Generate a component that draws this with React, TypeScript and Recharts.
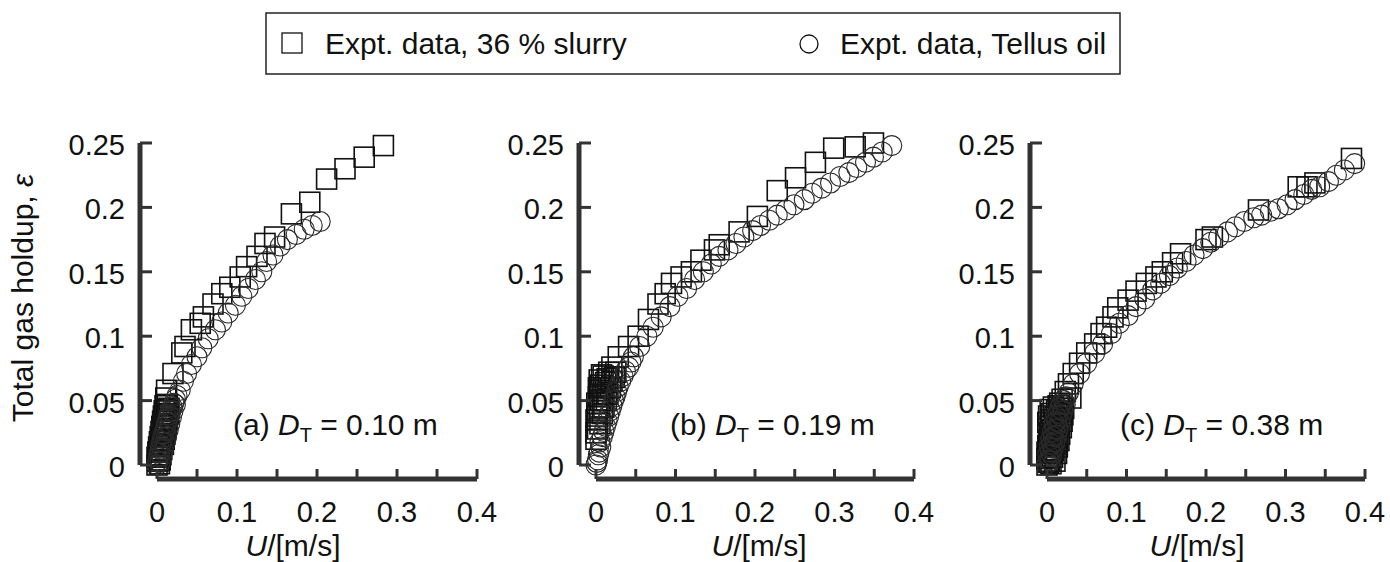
import React from "react";
import { ScatterChart, Scatter, XAxis, YAxis, ReferenceLine } from "recharts";

const W = 1390;
const H = 562;
const FONT = "'Liberation Sans', Arial, Helvetica, sans-serif";
const INK = "#111";
const AXIS = "#333";

// axis ticks (minor x ticks at 0.05 carry no label)
const xTicks = [0, 0.05, 0.1, 0.15, 0.2, 0.25, 0.3, 0.35, 0.4];
const xTickLabels = ["0", "", "0.1", "", "0.2", "", "0.3", "", "0.4"];
const yTicks = [0, 0.05, 0.1, 0.15, 0.2, 0.25];
const yTickLabels = ["0", "0.05", "0.1", "0.15", "0.2", "0.25"];

// [U m/s, gas holdup]
const slurryA = [
  [0.000, 0.000], [0.003, 0.001], [0.001, 0.003], [0.004, 0.004], [0.000, 0.006],
  [0.002, 0.007], [0.005, 0.008], [0.001, 0.010], [0.004, 0.011], [0.006, 0.012],
  [0.002, 0.014], [0.005, 0.015], [0.008, 0.016], [0.003, 0.018], [0.006, 0.019],
  [0.009, 0.020], [0.004, 0.022], [0.007, 0.023], [0.010, 0.024], [0.005, 0.026],
  [0.008, 0.027], [0.011, 0.028], [0.006, 0.030], [0.009, 0.031], [0.012, 0.032],
  [0.007, 0.034], [0.010, 0.035], [0.013, 0.036], [0.008, 0.038], [0.011, 0.039],
  [0.014, 0.040], [0.009, 0.042], [0.012, 0.043], [0.015, 0.044], [0.010, 0.046],
  [0.013, 0.047], [0.011, 0.052], [0.012, 0.058],
  [0.020, 0.071], [0.031, 0.087], [0.035, 0.092], [0.043, 0.105], [0.054, 0.110],
  [0.058, 0.115], [0.070, 0.125], [0.081, 0.133], [0.091, 0.138], [0.104, 0.146],
  [0.112, 0.154], [0.125, 0.162], [0.135, 0.172], [0.147, 0.177], [0.168, 0.195],
  [0.191, 0.204], [0.212, 0.222], [0.235, 0.230], [0.259, 0.239], [0.283, 0.248],
];
const oilA = [
  [0.000, 0.000], [0.001, 0.003], [0.002, 0.006], [0.003, 0.009], [0.004, 0.012],
  [0.005, 0.015], [0.006, 0.018], [0.007, 0.021], [0.008, 0.024], [0.010, 0.027],
  [0.011, 0.030], [0.012, 0.033], [0.014, 0.036], [0.015, 0.039], [0.017, 0.042],
  [0.019, 0.045], [0.021, 0.048], [0.023, 0.051], [0.025, 0.054],
  [0.004, 0.002], [0.006, 0.007], [0.008, 0.012], [0.010, 0.017], [0.012, 0.022],
  [0.014, 0.027], [0.016, 0.032], [0.018, 0.037], [0.020, 0.042], [0.023, 0.047],
  [0.029, 0.058], [0.033, 0.065], [0.037, 0.071], [0.043, 0.078], [0.050, 0.084],
  [0.056, 0.091], [0.064, 0.098], [0.073, 0.105], [0.081, 0.111], [0.089, 0.118],
  [0.098, 0.124], [0.106, 0.131], [0.114, 0.137], [0.123, 0.144], [0.131, 0.150],
  [0.137, 0.158], [0.145, 0.163], [0.154, 0.170], [0.163, 0.175], [0.174, 0.179],
  [0.184, 0.183], [0.194, 0.186], [0.204, 0.189],
];
const slurryB = [
  [0.000, 0.020], [0.000, 0.025], [0.002, 0.028], [0.000, 0.035], [0.002, 0.038],
  [0.001, 0.042], [0.004, 0.045], [0.001, 0.048], [0.006, 0.050], [0.003, 0.053],
  [0.008, 0.055], [0.004, 0.058], [0.010, 0.060], [0.006, 0.062], [0.012, 0.064],
  [0.004, 0.066], [0.014, 0.067], [0.009, 0.069], [0.016, 0.072], [0.020, 0.076],
  [0.005, 0.032], [0.008, 0.040], [0.010, 0.045], [0.013, 0.050], [0.015, 0.055],
  [0.018, 0.060], [0.020, 0.065], [0.023, 0.068], [0.025, 0.072], [0.003, 0.060],
  [0.007, 0.070],
  [0.028, 0.084], [0.041, 0.092], [0.053, 0.100], [0.066, 0.113], [0.078, 0.125],
  [0.087, 0.133], [0.095, 0.141], [0.107, 0.146], [0.120, 0.150], [0.132, 0.159],
  [0.149, 0.167], [0.155, 0.171], [0.180, 0.181], [0.203, 0.193], [0.228, 0.213],
  [0.251, 0.223], [0.276, 0.235], [0.299, 0.246], [0.326, 0.247], [0.349, 0.250],
];
const oilB = [
  [0.000, 0.000], [0.002, 0.004], [0.004, 0.010], [0.005, 0.018], [0.010, 0.026],
  [0.014, 0.034], [0.018, 0.042], [0.022, 0.050], [0.026, 0.057], [0.031, 0.065],
  [0.037, 0.073], [0.044, 0.080],
  [0.001, 0.002], [0.003, 0.008], [0.006, 0.014], [0.008, 0.022], [0.012, 0.030],
  [0.016, 0.038], [0.020, 0.046], [0.024, 0.053], [0.028, 0.061], [0.034, 0.069],
  [0.041, 0.076], [0.047, 0.084], [0.055, 0.092], [0.064, 0.100], [0.072, 0.107],
  [0.082, 0.115], [0.093, 0.123], [0.103, 0.131], [0.114, 0.137], [0.124, 0.144],
  [0.135, 0.150], [0.145, 0.156], [0.155, 0.162], [0.166, 0.167], [0.176, 0.172],
  [0.186, 0.177], [0.197, 0.182], [0.207, 0.186], [0.218, 0.190], [0.228, 0.194],
  [0.239, 0.198], [0.249, 0.202], [0.262, 0.206], [0.272, 0.211], [0.284, 0.215],
  [0.295, 0.219], [0.307, 0.224], [0.318, 0.227], [0.328, 0.231], [0.339, 0.235],
  [0.349, 0.239], [0.360, 0.243], [0.372, 0.248],
];
const slurryC = [
  [0.000, 0.000], [0.002, 0.002], [0.005, 0.001], [0.000, 0.005], [0.003, 0.007],
  [0.007, 0.006], [0.000, 0.010], [0.004, 0.012], [0.008, 0.011], [0.001, 0.015],
  [0.005, 0.017], [0.010, 0.016], [0.002, 0.020], [0.006, 0.022], [0.011, 0.021],
  [0.003, 0.025], [0.007, 0.027], [0.013, 0.026], [0.004, 0.030], [0.009, 0.032],
  [0.014, 0.031], [0.005, 0.035], [0.010, 0.037], [0.016, 0.036], [0.006, 0.040],
  [0.012, 0.042], [0.017, 0.041], [0.008, 0.045], [0.014, 0.046], [0.019, 0.044],
  [0.010, 0.003], [0.012, 0.009], [0.013, 0.014], [0.015, 0.019], [0.016, 0.024],
  [0.018, 0.029], [0.019, 0.034], [0.020, 0.039], [0.021, 0.044], [0.001, 0.033],
  [0.002, 0.038], [0.004, 0.043], [0.003, 0.003], [0.006, 0.009], [0.008, 0.019],
  [0.009, 0.024], [0.011, 0.030], [0.013, 0.035], [0.015, 0.040], [0.016, 0.048],
  [0.019, 0.051], [0.030, 0.052], [0.023, 0.057], [0.027, 0.063], [0.033, 0.071],
  [0.041, 0.079], [0.050, 0.087], [0.060, 0.094], [0.068, 0.102], [0.075, 0.107],
  [0.083, 0.115], [0.089, 0.122], [0.102, 0.128], [0.112, 0.135], [0.125, 0.141],
  [0.137, 0.146], [0.145, 0.150], [0.158, 0.157], [0.168, 0.164], [0.200, 0.175],
  [0.208, 0.177], [0.266, 0.198], [0.316, 0.216], [0.327, 0.216], [0.337, 0.219],
  [0.383, 0.238],
];
const oilC = [
  [0.000, 0.001], [0.002, 0.004], [0.001, 0.008], [0.004, 0.010], [0.003, 0.014],
  [0.006, 0.016], [0.005, 0.020], [0.008, 0.022], [0.007, 0.026], [0.010, 0.028],
  [0.009, 0.032], [0.012, 0.034], [0.011, 0.038], [0.014, 0.040], [0.016, 0.044],
  [0.018, 0.047], [0.021, 0.050], [0.024, 0.053],
  [0.004, 0.003], [0.006, 0.008], [0.008, 0.013], [0.010, 0.018], [0.012, 0.023],
  [0.014, 0.028], [0.016, 0.033], [0.018, 0.038], [0.020, 0.042], [0.023, 0.047],
  [0.027, 0.056], [0.033, 0.063],
  [0.041, 0.071], [0.050, 0.079], [0.060, 0.087], [0.070, 0.094], [0.081, 0.102],
  [0.091, 0.110], [0.102, 0.116], [0.112, 0.123], [0.123, 0.129], [0.133, 0.136],
  [0.143, 0.141], [0.154, 0.147], [0.164, 0.153], [0.175, 0.158], [0.185, 0.163],
  [0.196, 0.168], [0.206, 0.173], [0.216, 0.177], [0.227, 0.181], [0.237, 0.185],
  [0.248, 0.189], [0.260, 0.192], [0.270, 0.194], [0.281, 0.197], [0.291, 0.199],
  [0.302, 0.202], [0.312, 0.206], [0.323, 0.210], [0.333, 0.214], [0.343, 0.216],
  [0.354, 0.220], [0.364, 0.225], [0.374, 0.229], [0.387, 0.234],
];

const panels = [
  { tag: "(a)", dt: "0.10", slurry: slurryA, oil: oilA, left: 140, right: 477, noteX: 233, titleX: 293 },
  { tag: "(b)", dt: "0.19", slurry: slurryB, oil: oilB, left: 579, right: 914, noteX: 670, titleX: 759 },
  { tag: "(c)", dt: "0.38", slurry: slurryC, oil: oilC, left: 1030, right: 1365, noteX: 1120, titleX: 1197 },
];

const TOP = 143;
const XAXIS_Y = 479;
const PAD_X = 17;
const PAD_Y = 14;
const Y_W = 60;
const X_H = 40;

const toPts = (arr: number[][]) => arr.map(([u, eps]) => ({ u, eps }));

const Square = (p: any) => (
  <rect x={p.cx - 10} y={p.cy - 10} width={20} height={20} fill="none" stroke={INK} strokeWidth={1.6} />
);
const Ring = (p: any) => (
  <circle cx={p.cx} cy={p.cy} r={10} fill="none" stroke="#2a2a2a" strokeWidth={1.1} />
);

const XTick = (p: any) => {
  const i = xTicks.indexOf(p.payload.value);
  const label = xTickLabels[i] ?? "";
  return (
    <g>
      <line x1={p.x} y1={p.y} x2={p.x} y2={p.y - 10} stroke={AXIS} strokeWidth={3} />
      {label && (
        <text x={p.x} y={p.y + 43} textAnchor="middle" fontFamily={FONT} fontSize={29} fill={INK}>
          {label}
        </text>
      )}
    </g>
  );
};

const YTick = (p: any) => {
  const i = yTicks.indexOf(p.payload.value);
  return (
    <g>
      <line x1={p.x} y1={p.y} x2={p.x + 12} y2={p.y} stroke={AXIS} strokeWidth={3} />
      <text x={p.x - 15} y={p.y + 12} textAnchor="end" fontFamily={FONT} fontSize={29} fill={INK}>
        {yTickLabels[i]}
      </text>
    </g>
  );
};

// offset (detached) axis lines, as in the original figure
const XLine = (p: any) => {
  const x1 = Math.min(p.x1, p.x2) + PAD_X;
  const x2 = Math.max(p.x1, p.x2);
  return <line x1={x1} y1={p.y1 + PAD_Y} x2={x2} y2={p.y2 + PAD_Y} stroke={AXIS} strokeWidth={5} />;
};
const YLine = (p: any) => {
  const y1 = Math.min(p.y1, p.y2);
  const y2 = Math.max(p.y1, p.y2) - PAD_Y;
  return <line x1={p.x1 - PAD_X} y1={y1} x2={p.x2 - PAD_X} y2={y2} stroke={AXIS} strokeWidth={5} />;
};

function Panel({ cfg }: { cfg: (typeof panels)[number] }) {
  return (
    <ScatterChart
      width={W}
      height={H}
      margin={{ top: TOP, bottom: H - XAXIS_Y - X_H, left: cfg.left - Y_W, right: W - cfg.right }}
      style={{ position: "absolute", left: 0, top: 0 }}
    >
      <XAxis
        type="number"
        dataKey="u"
        domain={[0, 0.4]}
        ticks={xTicks}
        interval={0}
        padding={{ left: PAD_X }}
        height={X_H}
        axisLine={false}
        tickLine={false}
        tickSize={0}
        tickMargin={0}
        tick={XTick}
      />
      <YAxis
        type="number"
        dataKey="eps"
        domain={[0, 0.25]}
        ticks={yTicks}
        interval={0}
        padding={{ bottom: PAD_Y }}
        width={Y_W}
        axisLine={false}
        tickLine={false}
        tickSize={0}
        tickMargin={0}
        tick={YTick}
      />
      <ReferenceLine y={0} shape={XLine} ifOverflow="visible" />
      <ReferenceLine x={0} shape={YLine} ifOverflow="visible" />
      <Scatter data={toPts(cfg.slurry)} shape={Square} isAnimationActive={false} />
      <Scatter data={toPts(cfg.oil)} shape={Ring} isAnimationActive={false} />
    </ScatterChart>
  );
}

export default function App() {
  return (
    <div style={{ position: "absolute", left: 0, top: 0, width: W, height: H, background: "#fff", fontFamily: FONT }}>
      {panels.map((p) => (
        <Panel key={p.tag} cfg={p} />
      ))}
      <svg width={W} height={H} style={{ position: "absolute", left: 0, top: 0, pointerEvents: "none" }}>
        <text
          transform="translate(33,298) rotate(-90)"
          textAnchor="middle"
          fontFamily={FONT}
          fontSize={30}
          fill={INK}
        >
          Total gas holdup, <tspan fontStyle="italic">ε</tspan>
        </text>
        {panels.map((p) => (
          <g key={p.tag}>
            <text x={p.noteX} y={435} fontFamily={FONT} fontSize={30} fill={INK}>
              {p.tag} <tspan fontStyle="italic">D</tspan>
              <tspan fontSize={20} dy={7}>T</tspan>
              <tspan dy={-7}> = {p.dt} m</tspan>
            </text>
            <text x={p.titleX} y={556} textAnchor="middle" fontFamily={FONT} fontSize={30} fill={INK}>
              <tspan fontStyle="italic">U</tspan>/[m/s]
            </text>
          </g>
        ))}
        {/* legend */}
        <rect x={266} y={13} width={854} height={61} fill="none" stroke="#222" strokeWidth={1.5} />
        <rect x={282} y={33} width={20} height={20} fill="none" stroke={INK} strokeWidth={1.3} />
        <text x={325} y={54} fontFamily={FONT} fontSize={30} fill={INK}>
          Expt. data, 36 % slurry
        </text>
        <circle cx={809} cy={44} r={9} fill="none" stroke={INK} strokeWidth={1.3} />
        <text x={840} y={54} fontFamily={FONT} fontSize={30} fill={INK}>
          Expt. data, Tellus oil
        </text>
      </svg>
    </div>
  );
}
